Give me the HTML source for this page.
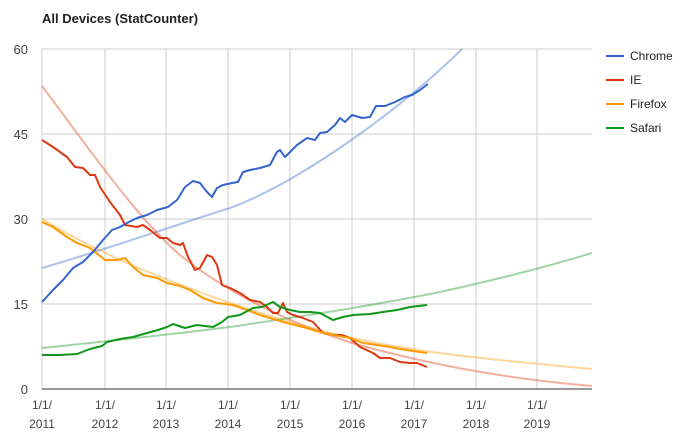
<!DOCTYPE html>
<html><head><meta charset="utf-8"><style>body{margin:0;background:#fff}svg{display:block;font-family:"Liberation Sans",Arial,sans-serif}</style></head><body>
<svg width="700" height="443" viewBox="0 0 700 443">
<text x="42" y="23" font-size="13" font-weight="bold" fill="#222">All Devices (StatCounter)</text>
<g stroke="#ccc" stroke-width="1">
<line x1="42" y1="49" x2="592" y2="49"/><line x1="42" y1="134" x2="592" y2="134"/><line x1="42" y1="219" x2="592" y2="219"/><line x1="42" y1="304" x2="592" y2="304"/>
<line x1="42" y1="49" x2="42" y2="389"/><line x1="105" y1="49" x2="105" y2="389"/><line x1="166" y1="49" x2="166" y2="389"/><line x1="228" y1="49" x2="228" y2="389"/><line x1="290" y1="49" x2="290" y2="389"/><line x1="352" y1="49" x2="352" y2="389"/><line x1="414" y1="49" x2="414" y2="389"/><line x1="476" y1="49" x2="476" y2="389"/><line x1="537" y1="49" x2="537" y2="389"/>
</g>
<line x1="42" y1="389" x2="592" y2="389" stroke="#777" stroke-width="1.5"/>
<g font-size="13" fill="#444" text-anchor="end">
<text x="28" y="54">60</text><text x="28" y="139">45</text><text x="28" y="224">30</text><text x="28" y="309">15</text><text x="28" y="394">0</text>
</g>
<g font-size="12" fill="#444" text-anchor="middle">
<text x="42" y="409">1/1/</text><text x="42" y="428">2011</text>
<text x="105" y="409">1/1/</text><text x="105" y="428">2012</text>
<text x="166" y="409">1/1/</text><text x="166" y="428">2013</text>
<text x="228" y="409">1/1/</text><text x="228" y="428">2014</text>
<text x="290" y="409">1/1/</text><text x="290" y="428">2015</text>
<text x="352" y="409">1/1/</text><text x="352" y="428">2016</text>
<text x="414" y="409">1/1/</text><text x="414" y="428">2017</text>
<text x="476" y="409">1/1/</text><text x="476" y="428">2018</text>
<text x="537" y="409">1/1/</text><text x="537" y="428">2019</text>
</g>
<g fill="none" stroke-width="2" stroke-opacity="0.4" stroke-linejoin="round">
<path stroke="#3366cc" d="M42,268 C120,245 166,228 230,208 C300,182 400,110 462,49"/>
<path stroke="#dc3912" d="M42,86 C90,150 137,218 180,255 C230,295 290,323 352,343 C440,368 520,380 592,386"/>
<path stroke="#ff9900" d="M42,219 C105,257 166,280 227,302 C290,323 352,342 440,353 C500,361 560,366 592,369"/>
<path stroke="#109618" d="M42,348 C110,341 166,335 230,327 C290,318 360,308 440,292 C500,279 560,263 592,253"/>
</g>
<g fill="none" stroke-width="2" stroke-linejoin="round">
<polyline stroke="#dc3912" points="42,140 53,147 67,157 75,167 83,168 90,175 95,175 100,187 110,202 120,215 125,225 137,227 143,225 150,230 160,238 167,238 173,243 180,245 183,243 188,257 195,270 200,268 207,255 212,257 217,265 222,285 230,288 240,293 250,300 260,302 267,307 273,313 278,313 283,303 287,312 293,315 303,318 313,322 323,333 333,335 342,335 350,338 360,347 373,353 380,358 390,358 400,362 410,363 417,363 427,367"/>
<polyline stroke="#ff9900" points="42,222 53,227 67,237 77,243 90,248 105,260 117,260 125,258 133,267 143,275 157,278 167,283 180,286 190,290 203,298 217,303 233,305 247,310 260,315 273,319 287,323 303,327 320,332 333,335 350,338 363,343 377,345 390,347 400,349 413,351 427,353"/>
<polyline stroke="#109618" points="42,355 60,355 77,354 90,349 102,346 107,342 120,339 133,337 147,333 158,330 167,327 173,324 185,328 197,325 213,327 222,322 228,317 240,315 253,308 262,307 273,302 280,307 290,310 300,312 310,312 320,313 333,320 343,317 353,315 370,314 383,312 397,310 410,307 427,305"/>
<polyline stroke="#3366cc" points="42,302 53,290 63,280 73,268 83,262 93,252 103,240 112,230 120,227 127,223 137,218 147,215 157,210 168,207 177,200 185,187 193,181 200,183 207,192 212,197 217,188 223,185 232,183 238,182 243,172 250,170 260,168 270,165 277,152 280,150 285,157 290,152 297,145 307,138 315,140 320,133 327,132 335,125 340,118 345,122 352,115 362,118 370,117 376,106 385,106 395,102 405,97 412,95 420,90 428,84"/>
</g>
<g stroke-width="2">
<line x1="606" y1="56" x2="624" y2="56" stroke="#3366cc"/>
<line x1="606" y1="80" x2="624" y2="80" stroke="#dc3912"/>
<line x1="606" y1="104" x2="624" y2="104" stroke="#ff9900"/>
<line x1="606" y1="128" x2="624" y2="128" stroke="#109618"/>
</g>
<g font-size="12" fill="#222">
<text x="630" y="60">Chrome</text><text x="630" y="84">IE</text><text x="630" y="108">Firefox</text><text x="630" y="132">Safari</text>
</g>
</svg>
</body></html>
